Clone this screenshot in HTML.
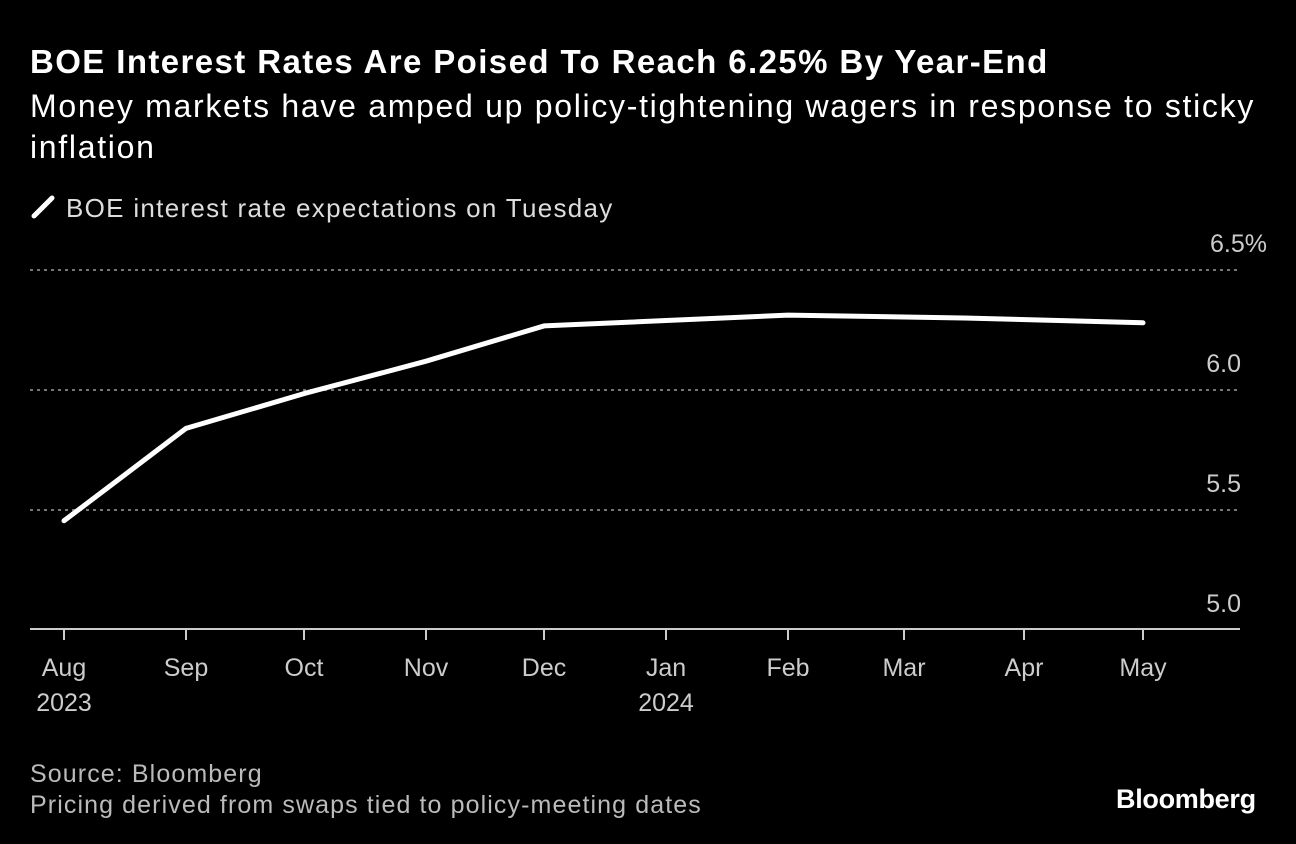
<!DOCTYPE html>
<html><head><meta charset="utf-8"><style>
html,body{margin:0;padding:0;background:#000;}
body{width:1296px;height:844px;overflow:hidden;font-family:"Liberation Sans",sans-serif;color:#fff;position:relative;}
.t{position:absolute;white-space:nowrap;}
</style></head><body>
<div class="t" style="left:30px;top:43px;font-size:33px;font-weight:bold;letter-spacing:1.4px;">BOE Interest Rates Are Poised To Reach 6.25% By Year-End</div>
<div class="t" style="left:30px;top:86px;font-size:32px;line-height:41px;letter-spacing:1.7px;">Money markets have amped up policy-tightening wagers in response to sticky<br>inflation</div>
<div class="t" style="left:30px;top:193px;font-size:26px;color:#ddd;letter-spacing:1.3px;"><svg width="26" height="26" style="vertical-align:-3px;margin-right:10px"><line x1="4" y1="22" x2="22" y2="4" stroke="#fff" stroke-width="5" stroke-linecap="round"/></svg>BOE interest rate expectations on Tuesday</div>
<svg id="chart" width="1296" height="844" style="position:absolute;left:0;top:0"></svg>
<div class="t" style="left:30px;top:759px;font-size:25px;color:#bbb;line-height:31px;letter-spacing:1.1px;">Source: Bloomberg<br>Pricing derived from swaps tied to policy-meeting dates</div>
<div class="t" style="left:1116px;top:784px;font-size:27px;font-weight:bold;letter-spacing:-0.3px;">Bloomberg</div>
<script>
const months=["Aug","Sep","Oct","Nov","Dec","Jan","Feb","Mar","Apr","May"];
const years=["2023","","","","","2024","","","",""];
const xVals=[0,1,2,3,4,6,7.5,9];
const rates=[5.455,5.84,5.985,6.12,6.267,6.312,6.3,6.28];
const yTicks=[5.0,5.5,6.0,6.5];
const yLabels=["5.0","5.5","6.0","6.5%"];
const NS="http://www.w3.org/2000/svg";
const svg=document.getElementById('chart');
const tickX=[64,186,304,426,544,666,788,904,1024,1143];
function x(m){const i=Math.min(Math.floor(m),8);return tickX[i]+(tickX[i+1]-tickX[i])*(m-i);}
function y(v){return 630-(v-5)*240;}
function el(t,a){const e=document.createElementNS(NS,t);for(const k in a)e.setAttribute(k,a[k]);svg.appendChild(e);return e;}
yTicks.forEach((v,i)=>{
 if(i>0){const g=el('line',{x1:30,x2:1240,y1:y(v),y2:y(v),stroke:'#777','stroke-width':2,'stroke-dasharray':'3,4'});
 
 }
 const t=el('text',{x:i==3?1267:1241,y:y(v)-18,'text-anchor':'end','font-size':25,fill:'#ccc','font-family':'Liberation Sans, sans-serif'});
 t.textContent=yLabels[i];
 
 
});
const ax=el('line',{x1:30,x2:1240,y1:629,y2:629,stroke:'#ccc','stroke-width':2});


months.forEach((m,i)=>{
 const tk=el('line',{x1:x(i),x2:x(i),y1:629,y2:640,stroke:'#ccc','stroke-width':2});
 
 
 const t=el('text',{x:x(i),y:676,'text-anchor':'middle','font-size':25,fill:'#ccc','font-family':'Liberation Sans, sans-serif'});
 t.textContent=m;
 
 
 if(years[i]){const yt=el('text',{x:x(i),y:711,'text-anchor':'middle','font-size':25,fill:'#ccc','font-family':'Liberation Sans, sans-serif'});
 yt.textContent=years[i];
 
 }
});
const p=el('polyline',{points:xVals.map((m,i)=>x(m)+','+y(rates[i])).join(' '),fill:'none',stroke:'#fff','stroke-width':5,'stroke-linejoin':'round','stroke-linecap':'round'});


</script>
</body></html>
